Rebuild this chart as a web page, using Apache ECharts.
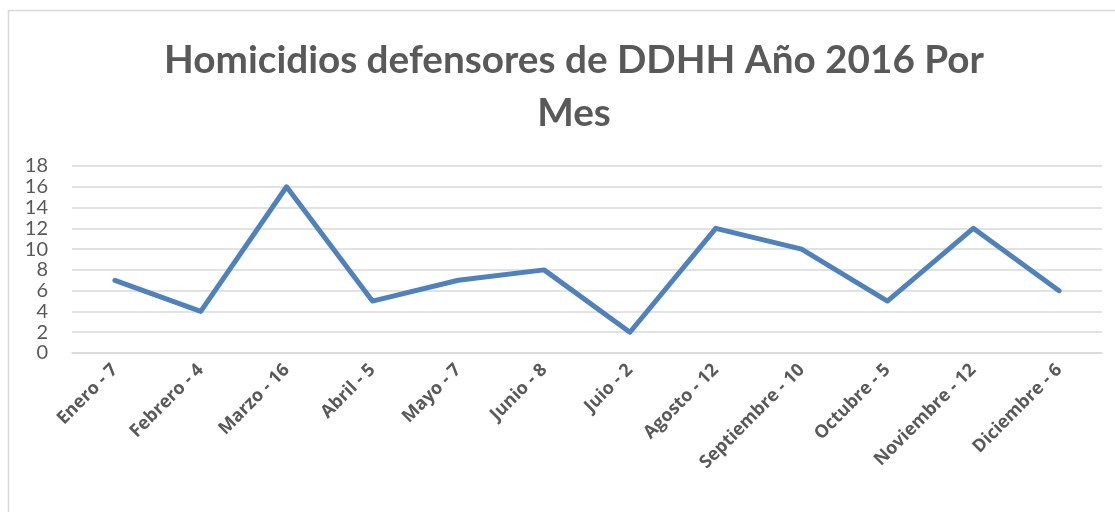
<!DOCTYPE html>
<html><head><meta charset="utf-8">
<script src="https://cdn.jsdelivr.net/npm/echarts@6/dist/echarts.min.js"></script>
<style>html,body{margin:0;padding:0;background:#fff}#c{width:1115px;height:512px}</style>
</head><body><div id="c"></div>
<script>
const titleText = "Homicidios defensores de DDHH Año 2016 Por\nMes";
const categories = ["Enero - 7","Febrero - 4","Marzo - 16","Abril - 5","Mayo - 7","Junio - 8","Juio - 2","Agosto - 12","Septiembre - 10","Octubre - 5","Noviembre - 12","Diciembre - 6"];
const values = [7,4,16,5,7,8,2,12,10,5,12,6];
const yMin = 0, yMax = 18, yStep = 2;

const chart = echarts.init(document.getElementById('c'), null, {renderer:'canvas'});
chart.setOption({
  animation:false,
  backgroundColor:'#fff',
  graphic:[{type:'rect',shape:{x:8.5,y:10.5,width:1200,height:600},style:{fill:'none',stroke:'#d9d9d9',lineWidth:1.5},silent:true,z:-1}],
  title:{text:titleText,left:569,textAlign:'center',top:29,textStyle:{fontFamily:'Lato',fontWeight:'bold',fontSize:38.7,color:'#595959',lineHeight:53}},
  grid:{left:72,right:13,top:166,bottom:159,containLabel:false},
  xAxis:{type:'category',data:categories,boundaryGap:true,
    axisLine:{show:true,lineStyle:{color:'#d9d9d9',width:1.5}},axisTick:{show:false},
    axisLabel:{rotate:45,interval:0,color:'#595959',fontFamily:'Open Sans',fontWeight:'bold',fontSize:18,margin:14}},
  yAxis:{type:'value',min:yMin,max:yMax,interval:yStep,
    axisLine:{show:false},axisTick:{show:false},
    splitLine:{lineStyle:{color:'#d9d9d9',width:1.5}},
    axisLabel:{color:'#595959',fontFamily:'Lato',fontSize:20,margin:24}},
  series:[{type:'line',data:values,symbol:'none',lineStyle:{color:'#4f81bd',width:5,cap:'round',join:'round'},itemStyle:{color:'#4f81bd'}}]
});
</script></body></html>
